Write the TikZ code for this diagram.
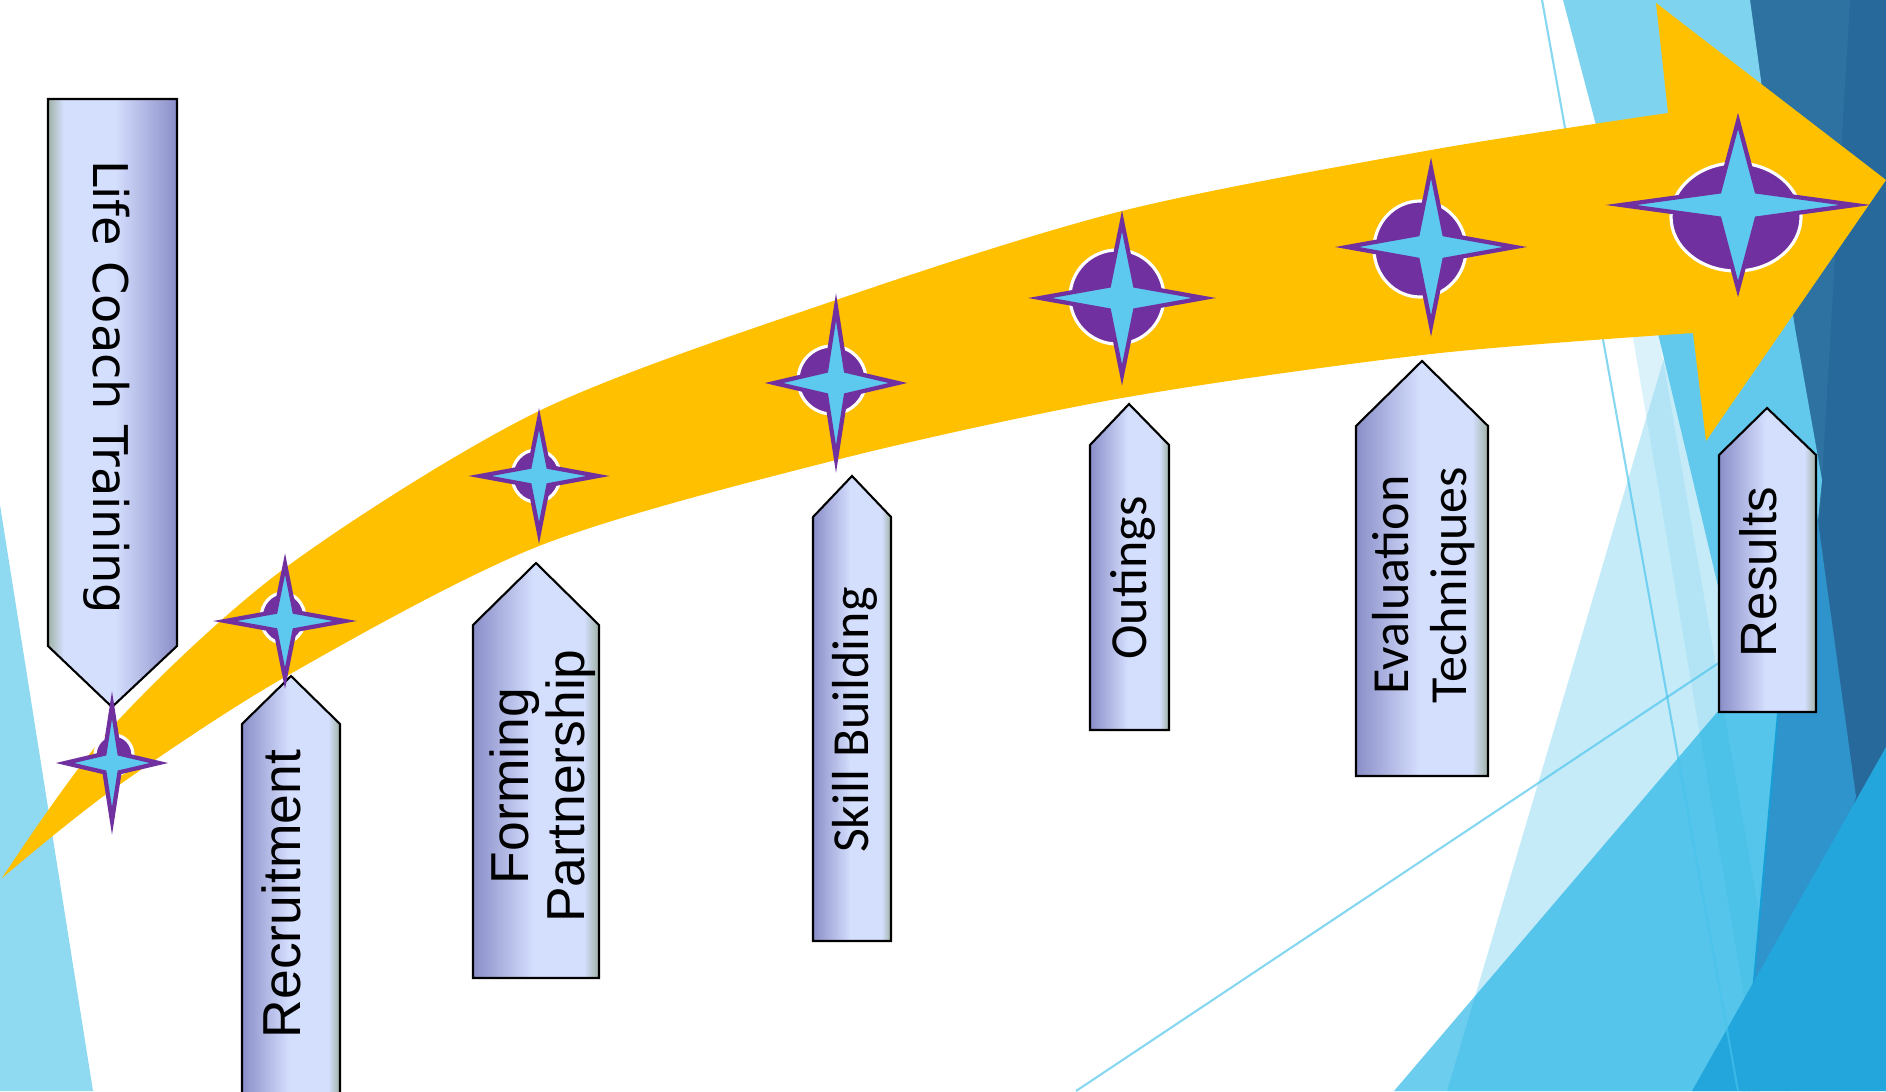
\documentclass[tikz,border=0pt]{standalone}
\usepackage{fontspec}
\setmainfont{Liberation Sans}
\newfontfamily\calfont{Carlito}
\newfontfamily\verfont{DejaVu Sans}

\definecolor{gold}{HTML}{FFC000}
\definecolor{starpurple}{HTML}{7030A0}
\definecolor{starcyan}{HTML}{5DC9EE}
\definecolor{boxdark}{HTML}{8A8EC8}
\definecolor{boxlight}{HTML}{D4DEFD}
\definecolor{boxgrey}{HTML}{9FB2A6}
\definecolor{facetleft}{HTML}{8FD9F1}
\definecolor{navy}{HTML}{27699A}
\definecolor{navylite}{HTML}{2D72A0}
\definecolor{cyanA}{HTML}{7ED3EF}
\definecolor{cyanB}{HTML}{63C9EC}
\definecolor{pale}{HTML}{C5EBF8}
\definecolor{stripe}{HTML}{8AD7F1}
\definecolor{medium}{HTML}{2F93CC}
\definecolor{cyanbig}{RGB}{6,170,226}
\definecolor{bright}{HTML}{22A6DC}
\definecolor{thinline}{RGB}{70,195,236}

\pgfdeclarehorizontalshading{boxshade}{100bp}{color(0bp)=(boxdark); color(25bp)=(boxdark); color(49bp)=(boxlight); color(69bp)=(boxlight); color(75bp)=(boxgrey); color(100bp)=(boxgrey)}

\tikzset{
  stepbox/.style={shade, shading=boxshade, draw=black, line width=0.6pt},
  steplabel/.style={inner sep=0pt, align=center, text=black},
  starmark/.style={fill=starcyan, draw=starpurple, line width=1.2pt, miter limit=25},
  dotmark/.style={fill=starpurple, draw=white, line width=0.9pt},
}

\begin{document}
\begin{tikzpicture}[x=0.01cm,y=-0.01cm]
  \useasboundingbox (0,0) rectangle (1886,1091);
  \clip (0,0) rectangle (1886,1091);
  \fill[white] (0,0) rectangle (1886,1091);
  % facets
  \fill[facetleft] (0,505) -- (93,1091) -- (0,1091) -- cycle;
  \fill[navy] (1745,0) rectangle (1886,1091);
  \fill[navylite] (1750,0) -- (1850,0) -- (1815,600) -- cycle;
  \fill[cyanA] (1563,0) -- (1750,0) -- (1795,330) -- (1650,330) -- cycle;
  \fill[pale] (1693,260) -- (1760,400) -- (1800,700) -- (1800,1091) -- (1447,1091) -- cycle;
  \fill[stripe, fill opacity=0.3] (1630,320) -- (1656,320) -- (1790,1091) -- (1760,1091) -- cycle;
  \fill[cyanB] (1650,300) -- (1790,300) -- (1822,480) -- (1800,700) -- (1745,700) -- cycle;
  \fill[medium] (1777,713) -- (1815,500) -- (1856,797) -- (1760,1091) -- (1743,1091) -- cycle;
  \fill[cyanbig, fill opacity=0.586] (1394,1091) -- (1719,710) -- (1780,700) -- (1745,1091) -- cycle;
  \fill[bright] (1886,747) -- (1886,1091) -- (1692,1091) -- cycle;
  \draw[thinline, draw opacity=0.65, line width=0.6pt] (1542,0) -- (1738,1091);
  \draw[thinline, draw opacity=0.65, line width=0.6pt] (1076,1091) -- (1720,662);
  % big arrow
  \fill[gold] plot[smooth,tension=0.5] coordinates {(2,878) (112,727) (285,568) (539,411) (836,300) (1122,211) (1431,150) (1668,113)}
    -- (1656,3) -- (1886,180) -- (1706,441) -- (1693,333)
    -- plot[smooth,tension=0.5] coordinates {(1693,333) (1431,354) (1122,398) (836,460) (539,546) (285,677) (112,790) (2,878)} -- cycle;
  % boxes
  \draw[stepbox, shading angle=180] (48,99) -- (177,99) -- (177,646) -- (112,707) -- (48,646) -- cycle;
  \draw[stepbox] (242,1100) -- (242,724) -- (291,676) -- (340,724) -- (340,1100) -- cycle;
  \draw[stepbox] (473,978) -- (473,625) -- (536,563) -- (599,625) -- (599,978) -- cycle;
  \draw[stepbox] (813,941) -- (813,517) -- (852,476) -- (891,517) -- (891,941) -- cycle;
  \draw[stepbox] (1090,730) -- (1090,445) -- (1129,404) -- (1169,445) -- (1169,730) -- cycle;
  \draw[stepbox] (1356,776) -- (1356,426) -- (1422,361) -- (1488,426) -- (1488,776) -- cycle;
  \draw[stepbox] (1719,712) -- (1719,455) -- (1767,408) -- (1816,455) -- (1816,712) -- cycle;
  \node[steplabel, rotate=-90, font=\verfont\fontsize{13.6}{15}\selectfont] (life) at (107,387) {Life Coach Training};
  \node[steplabel, rotate=90, font=\fontsize{15.2}{16}\selectfont] (recruit) at (281,894) {Recruitment};
  \node[steplabel, rotate=90, font=\fontsize{15.2}{16}\selectfont] (forming) at (543,786) {Forming\\Partnership};
  \node[steplabel, rotate=90, font=\calfont\fontsize{14.8}{16.5}\selectfont] (skill) at (855,720) {Skill Building};
  \node[steplabel, rotate=90, font=\calfont\fontsize{14.8}{16.5}\selectfont] (outings) at (1133,578) {Outings};
  \node[steplabel, rotate=90, font=\calfont\fontsize{14.8}{16.5}\selectfont] (evaluation) at (1424,585) {Evaluation\\Techniques};
  \node[steplabel, rotate=90, font=\fontsize{14.5}{16}\selectfont] (results) at (1758,572) {Results};
  % milestones
  \foreach \cx/\cy/\rx/\ry in {114/755/19/20, 283/618/22/25, 536/476/24/26, 832/380/34/34, 1117/297/47/47, 1420/249/46/48, 1736/217/65/54}
    \draw[dotmark] (\cx,\cy) ellipse [x radius=\rx, y radius=\ry];
  \foreach \cx/\cy/\hw/\hh in {112/763/47/58, 285/621/60/57, 539/476/59/57, 836/383/62/76, 1122/298/82/77, 1431/247/84/79, 1738/205/117/84}
    \draw[starmark] (\cx+\hw,\cy) -- (\cx+0.16*\hw,\cy-0.16*\hh) -- (\cx,\cy-\hh) -- (\cx-0.16*\hw,\cy-0.16*\hh)
      -- (\cx-\hw,\cy) -- (\cx-0.16*\hw,\cy+0.16*\hh) -- (\cx,\cy+\hh) -- (\cx+0.16*\hw,\cy+0.16*\hh) -- cycle;
\end{tikzpicture}
\end{document}
